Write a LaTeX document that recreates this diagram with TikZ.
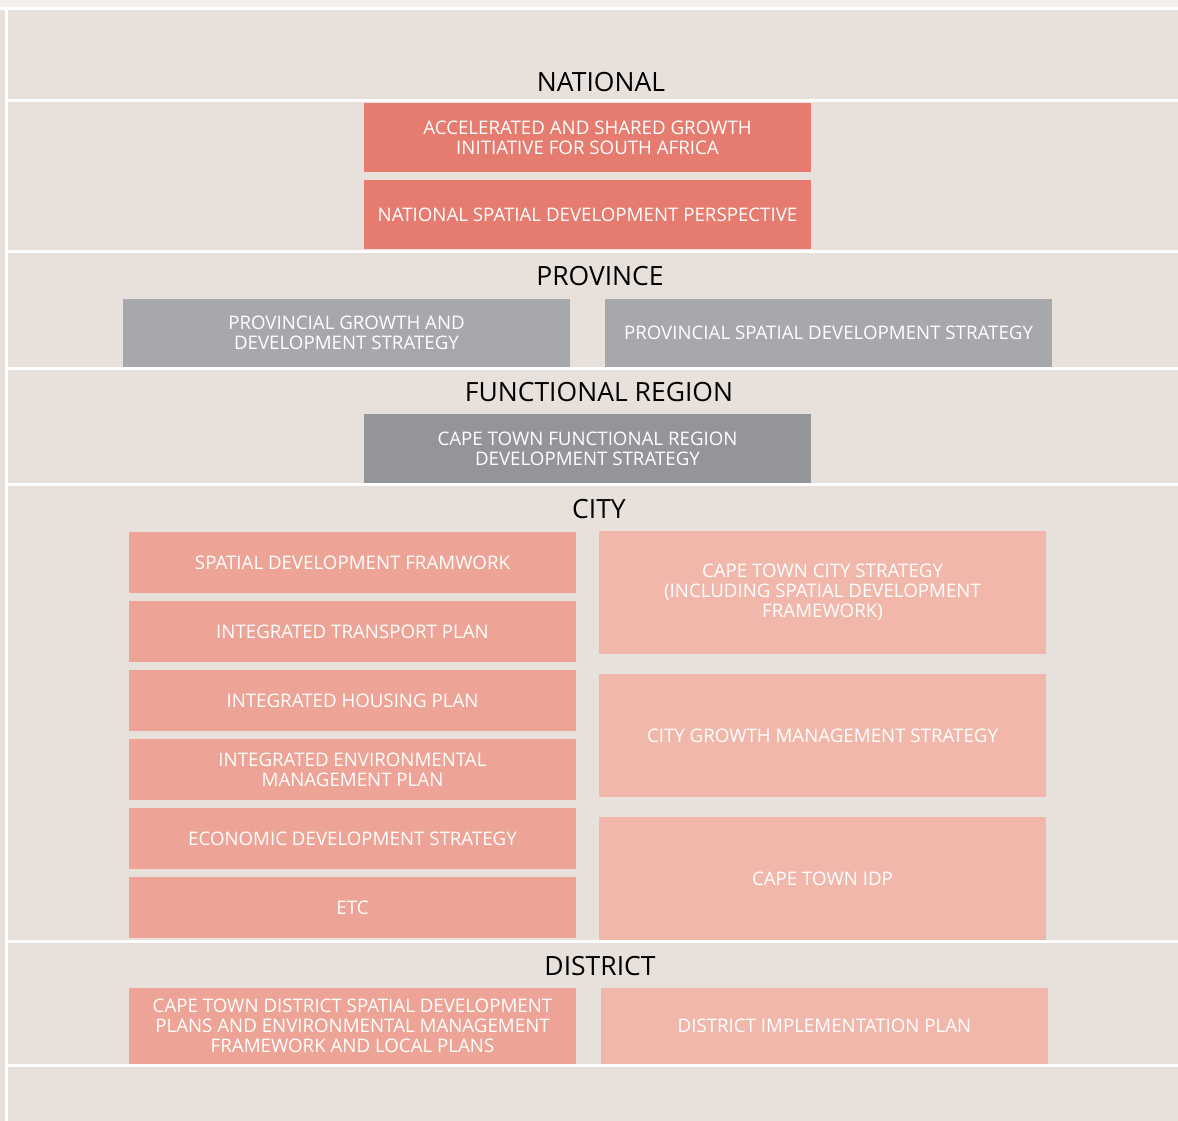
\documentclass[tikz,border=0pt]{standalone}
\usepackage{fontspec}
\setmainfont{Open Sans}
\usetikzlibrary{positioning}
\definecolor{planSand}{HTML}{E8E0DA}
\definecolor{planPale}{HTML}{F4F1EC}
\definecolor{planRed}{HTML}{E67C70}
\definecolor{planGrey}{HTML}{A7A8AB}
\definecolor{planSlate}{HTML}{939598}
\definecolor{planSalmon}{HTML}{EDA496}
\definecolor{planPink}{HTML}{F1B7AB}

\begin{document}
\begin{tikzpicture}[x=1pt,y=-1pt,
  tier/.style={font=\fontsize{26.5}{28}\selectfont,text=black,inner sep=0pt},
  planbox/.style={inner sep=0pt,outer sep=0pt,minimum width=447pt,align=center,
                  text=white,font=\fontsize{18.7}{20}\selectfont},
  natbox/.style={planbox,fill=planRed,minimum height=69pt},
  provbox/.style={planbox,fill=planGrey,minimum height=68pt},
  regbox/.style={planbox,fill=planSlate,minimum height=69pt},
  citybox/.style={planbox,fill=planSalmon,minimum height=61pt},
  stratbox/.style={planbox,fill=planPink,minimum height=123pt}]
  \useasboundingbox (0,0) rectangle (1178,1121);
  \fill[planSand] (0,0) rectangle (1178,1121);
  \fill[planPale] (0,0) rectangle (1178,7);
  % white rules between the tiers
  \draw[white,line width=3pt] (0,8.5) -- (1178,8.5);
  \draw[white,line width=3pt] (6.5,10) -- (6.5,1121);
  \foreach \y in {101,251,368,484,941,1065}
    \draw[white,line width=3pt] (8,\y) -- (1178,\y);

  % national
  \node[tier] (national) at (601,82) {NATIONAL};
  \node[natbox,anchor=north west] (asgisa) at (364,103)
    {ACCELERATED AND SHARED GROWTH\\INITIATIVE FOR SOUTH AFRICA};
  \node[natbox,below=8pt of asgisa] (nsdp) {NATIONAL SPATIAL DEVELOPMENT PERSPECTIVE};

  % province
  \node[tier] (province) at (600,276) {PROVINCE};
  \node[provbox,anchor=north west] (pgds) at (123,299)
    {PROVINCIAL GROWTH AND\\DEVELOPMENT STRATEGY};
  \node[provbox,right=35pt of pgds] (psds) {PROVINCIAL SPATIAL DEVELOPMENT STRATEGY};

  % functional region
  \node[tier] (region) at (599,392) {FUNCTIONAL REGION};
  \node[regbox,anchor=north west] (ctfr) at (364,414)
    {CAPE TOWN FUNCTIONAL REGION\\DEVELOPMENT STRATEGY};

  % city
  \node[tier] (city) at (599,509) {CITY};
  \node[citybox,anchor=north west] (sdf) at (129,532) {SPATIAL DEVELOPMENT FRAMWORK};
  \node[citybox,below=8pt of sdf] (itp) {INTEGRATED TRANSPORT PLAN};
  \node[citybox,below=8pt of itp] (ihp) {INTEGRATED HOUSING PLAN};
  \node[citybox,below=8pt of ihp] (iemp) {INTEGRATED ENVIRONMENTAL\\MANAGEMENT PLAN};
  \node[citybox,below=8pt of iemp] (eds) {ECONOMIC DEVELOPMENT STRATEGY};
  \node[citybox,below=8pt of eds] (etc) {ETC};
  \node[stratbox,anchor=north west] (cts) at (599,531)
    {CAPE TOWN CITY STRATEGY\\(INCLUDING SPATIAL DEVELOPMENT\\FRAMEWORK)};
  \node[stratbox,below=20pt of cts] (cgms) {CITY GROWTH MANAGEMENT STRATEGY};
  \node[stratbox,below=20pt of cgms] (idp) {CAPE TOWN IDP};

  % district
  \node[tier] (district) at (600,966) {DISTRICT};
  \node[citybox,anchor=north west,minimum height=76pt] (dsdp) at (129,988)
    {CAPE TOWN DISTRICT SPATIAL DEVELOPMENT\\PLANS AND ENVIRONMENTAL MANAGEMENT\\FRAMEWORK AND LOCAL PLANS};
  \node[citybox,fill=planPink,minimum height=76pt,right=25pt of dsdp] (dip)
    {DISTRICT IMPLEMENTATION PLAN};
\end{tikzpicture}
\end{document}
